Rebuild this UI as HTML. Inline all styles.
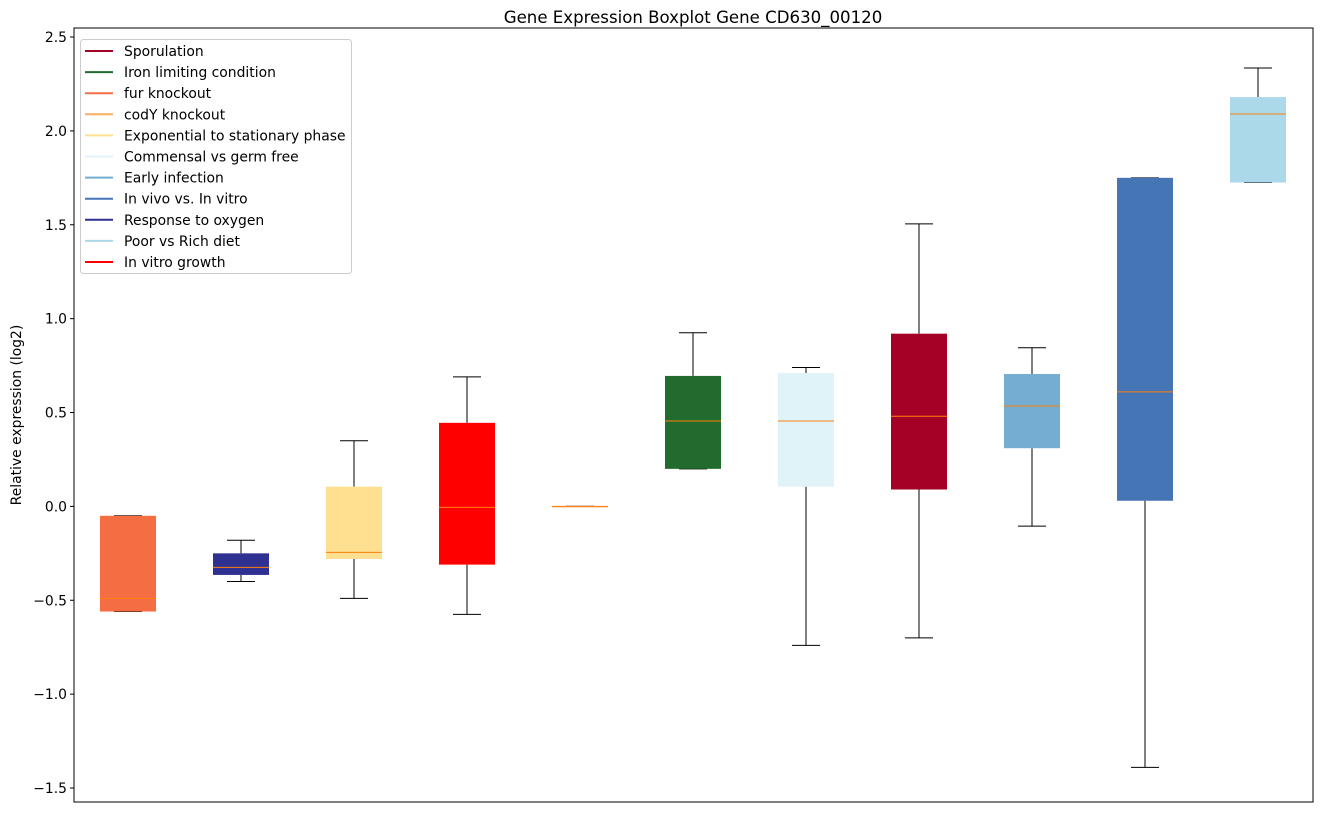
<!DOCTYPE html>
<html><head><meta charset="utf-8"><style>
body{margin:0;background:#fff;font-family:"Liberation Sans","DejaVu Sans",sans-serif}
svg text{font-family:"DejaVu Sans","Liberation Sans",sans-serif}
</style></head><body>
<svg id="chart" width="1322" height="812" xmlns="http://www.w3.org/2000/svg">
<rect width="1322" height="812" fill="#fff"/>
<text x="693" y="23" font-size="16.6" text-anchor="middle">Gene Expression Boxplot Gene CD630_00120</text>
<text transform="translate(21,415) rotate(-90)" font-size="13.9" text-anchor="middle">Relative expression (log2)</text>
<g id="boxes"></g>
<g id="yticks"></g>
<rect x="74" y="28" width="1239" height="774" fill="none" stroke="#000" stroke-width="1"/>
<g id="legend"></g>
</svg>
<script>
const categories=["fur knockout","Response to oxygen","Exponential to stationary phase","In vitro growth","codY knockout","Iron limiting condition","Commensal vs germ free","Sporulation","Early infection","In vivo vs. In vitro","Poor vs Rich diet"];
const colors=["#f46d43","#2e3192","#fee090","#ff0000","#fdae61","#216b2e","#e0f3f8","#a50026","#74add1","#4575b4","#abd9e9"];
const whiskerLow=[-0.56,-0.40,-0.49,-0.575,0,0.2,-0.74,-0.70,-0.105,-1.39,1.725];
const q1=[-0.56,-0.365,-0.28,-0.31,0,0.2,0.105,0.09,0.31,0.03,1.725];
const median=[-0.49,-0.325,-0.245,-0.005,0,0.455,0.455,0.48,0.535,0.61,2.09];
const q3=[-0.05,-0.25,0.105,0.445,0,0.695,0.71,0.92,0.705,1.75,2.18];
const whiskerHigh=[-0.05,-0.18,0.35,0.69,0,0.925,0.74,1.505,0.845,1.75,2.335];
const yTicks=[-1.5,-1.0,-0.5,0.0,0.5,1.0,1.5,2.0,2.5];
const yTickLabels=["\u22121.5","\u22121.0","\u22120.5","0.0","0.5","1.0","1.5","2.0","2.5"];
const legendLabels=["Sporulation","Iron limiting condition","fur knockout","codY knockout","Exponential to stationary phase","Commensal vs germ free","Early infection","In vivo vs. In vitro","Response to oxygen","Poor vs Rich diet","In vitro growth"];
const legendColors=["#a50026","#216b2e","#f46d43","#fdae61","#fee090","#e0f3f8","#74add1","#4575b4","#2e3192","#abd9e9","#ff0000"];
const NS="http://www.w3.org/2000/svg";
function y(v){return 506.4-v*187.75;}
function x(i){return 128+i*113;}
function mk(tag,attrs,parent){const e=document.createElementNS(NS,tag);for(const k in attrs)e.setAttribute(k,attrs[k]);parent.appendChild(e);return e;}
const gb=document.getElementById('boxes');
categories.forEach((c,i)=>{
 const g=mk('g',{},gb);
 
 
 const cx=x(i),w=28;
 mk('line',{x1:cx,x2:cx,y1:y(q3[i]),y2:y(whiskerHigh[i]),stroke:'#000'},g);
 mk('line',{x1:cx,x2:cx,y1:y(q1[i]),y2:y(whiskerLow[i]),stroke:'#000'},g);
 mk('line',{x1:cx-14,x2:cx+14,y1:y(whiskerHigh[i]),y2:y(whiskerHigh[i]),stroke:'#000'},g);
 mk('line',{x1:cx-14,x2:cx+14,y1:y(whiskerLow[i]),y2:y(whiskerLow[i]),stroke:'#000'},g);
 mk('rect',{x:cx-w,y:y(q3[i]),width:2*w,height:Math.max(1,y(q1[i])-y(q3[i])),fill:colors[i]},g);
 mk('line',{x1:cx-w,x2:cx+w,y1:y(median[i]),y2:y(median[i]),stroke:'#ff7f0e','stroke-width':1},g);
});
const gy=document.getElementById('yticks');
yTicks.forEach((t,i)=>{
 const g=mk('g',{},gy);
 
 
 mk('line',{x1:70,x2:74,y1:y(t),y2:y(t),stroke:'#000'},g);
 const tx=mk('text',{x:67,y:y(t)+5,'font-size':13.9,'text-anchor':'end'},g);tx.textContent=yTickLabels[i];
});
const gl=document.getElementById('legend');


mk('rect',{x:80.5,y:39.5,width:271,height:234,rx:3,fill:'#fff',stroke:'#ccc'},gl);
legendLabels.forEach((l,i)=>{
 const g=mk('g',{},gl);
 
 
 const yy=51+i*21.1;
 mk('line',{x1:85,x2:113,y1:yy,y2:yy,stroke:legendColors[i],'stroke-width':2},g);
 const t=mk('text',{x:124,y:yy+5,'font-size':13.9},g);t.textContent=l;
});
</script>
</body></html>
